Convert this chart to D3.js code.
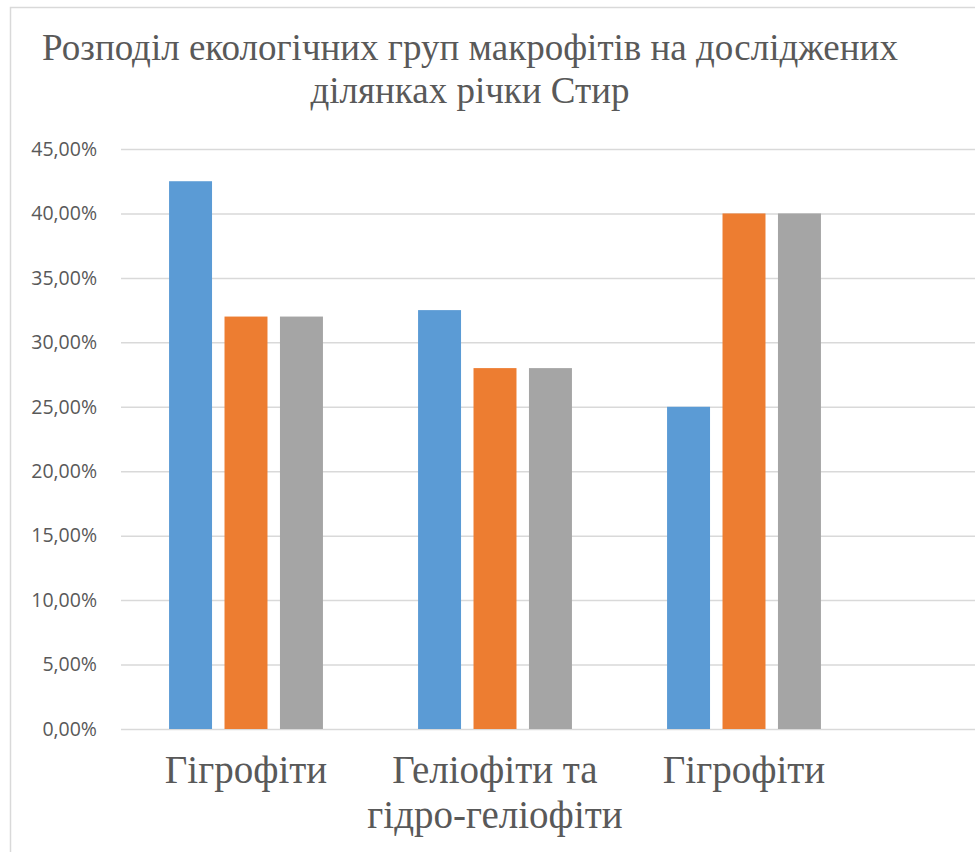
<!DOCTYPE html>
<html>
<head>
<meta charset="utf-8">
<script src="https://cdn.jsdelivr.net/npm/d3@7"></script>
<style>
  html, body { margin: 0; padding: 0; background: #fff; }
  svg { display: block; }
</style>
</head>
<body>
<div id="chart"></div>
<script>
// Ecological groups of macrophytes along the studied reaches of the Styr river
const titleLines = ["Розподіл екологічних груп макрофітів на досліджених", "ділянках річки Стир"];
const categories = ["Гігрофіти", "Геліофіти та гідро-геліофіти", "Гігрофіти"];
const categoryLines = [["Гігрофіти"], ["Геліофіти та", "гідро-геліофіти"], ["Гігрофіти"]];
const seriesNames = ["Ряд 1", "Ряд 2", "Ряд 3"];
const series1 = [0.425, 0.325, 0.25];
const series2 = [0.32, 0.28, 0.40];
const series3 = [0.32, 0.28, 0.40];
const yTicks = [0, 0.05, 0.10, 0.15, 0.20, 0.25, 0.30, 0.35, 0.40, 0.45];
const colors = ["#5B9BD5", "#ED7D31", "#A5A5A5"];

const W = 975, H = 852;
const plot = { left: 121, right: 975, top: 149, bottom: 729 };
const bandLeft = 121.5, bandRight = 868.5;

const svg = d3.select("#chart").append("svg")
  .attr("width", W).attr("height", H);

// chart frame
svg.append("rect")
  .attr("x", 10.5).attr("y", 7.5)
  .attr("width", W + 20).attr("height", H + 20)
  .attr("fill", "#fff").attr("stroke", "#d9d9d9").attr("stroke-width", 1.5);

// title
const title = svg.append("text")
  .attr("text-anchor", "middle")
  .attr("font-family", "'Liberation Serif', 'Times New Roman', serif")
  .attr("font-size", 37)
  .attr("fill", "#595959");
titleLines.forEach((t, i) => {
  title.append("tspan").attr("x", 470).attr("y", 60 + i * 43).text(t);
});

const y = d3.scaleLinear().domain([0, 0.45]).range([plot.bottom, plot.top]);
const x0 = d3.scaleBand().domain(d3.range(categories.length))
  .range([bandLeft, bandRight]).paddingInner(0.382).paddingOuter(0.191);
const x1 = d3.scaleBand().domain(d3.range(seriesNames.length))
  .range([0, x0.bandwidth()]).paddingInner(0.225);

const fmt = v => d3.format(".2f")(v * 100).replace(".", ",") + "%";

// gridlines + tick labels
const yAxis = d3.axisLeft(y).tickValues(yTicks).tickFormat(fmt)
  .tickSize(-(plot.right - plot.left)).tickPadding(24);
const gy = svg.append("g").attr("transform", `translate(${plot.left},0)`).call(yAxis);
gy.select(".domain").remove();
gy.selectAll(".tick line").attr("stroke", "#d9d9d9").attr("stroke-width", 1.5);
gy.selectAll(".tick text")
  .attr("font-family", "'Open Sans', 'Liberation Sans', sans-serif")
  .attr("font-size", 19.5)
  .attr("fill", "#595959");

// bars
const allSeries = [series1, series2, series3];
const groups = svg.append("g").selectAll("g")
  .data(categories.map((c, i) => ({ i, values: allSeries.map(s => s[i]) })))
  .join("g")
  .attr("transform", d => `translate(${x0(d.i)},0)`);
groups.selectAll("rect")
  .data(d => d.values.map((v, k) => ({ v, k })))
  .join("rect")
  .attr("x", d => x1(d.k))
  .attr("width", x1.bandwidth())
  .attr("y", d => y(d.v))
  .attr("height", d => y(0) - y(d.v))
  .attr("fill", d => colors[d.k]);

// category labels
const cat = svg.append("g")
  .attr("font-family", "'Liberation Serif', 'Times New Roman', serif")
  .attr("font-size", 39)
  .attr("fill", "#595959")
  .attr("text-anchor", "middle");
categoryLines.forEach((lines, i) => {
  const t = cat.append("text");
  lines.forEach((l, j) => {
    t.append("tspan")
      .attr("x", x0(i) + x0.bandwidth() / 2)
      .attr("y", 783 + j * 45)
      .text(l);
  });
});
</script>
</body>
</html>
